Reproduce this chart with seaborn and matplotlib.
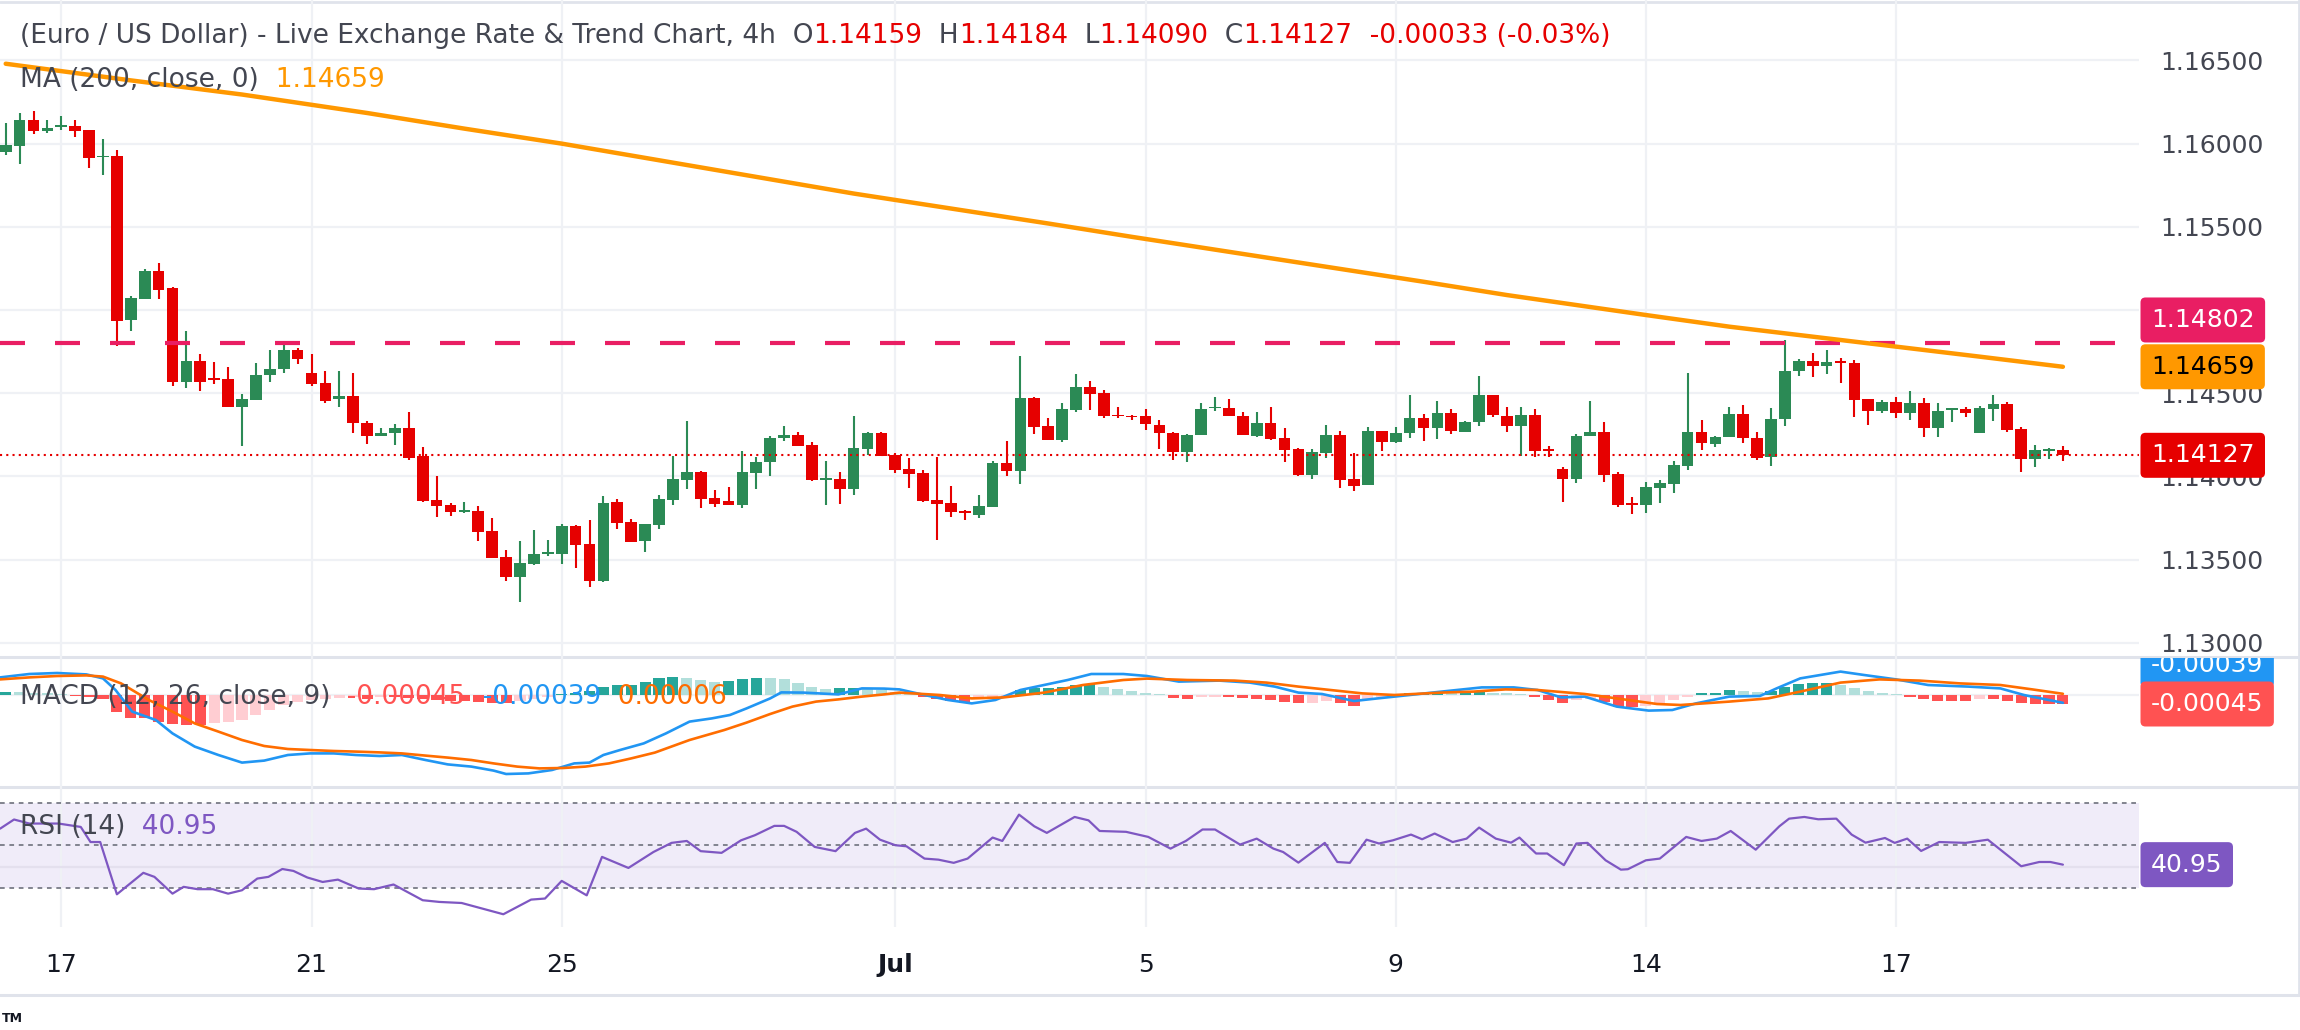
import numpy as np
import pandas as pd
import matplotlib
matplotlib.use("Agg")
import matplotlib.pyplot as plt
import seaborn as sns
from matplotlib.transforms import Bbox, TransformedBbox

sns.set_theme(style="white")
plt.rcParams['font.family'] = ['DejaVu Sans']

# ---- candles (4h EUR/USD) ----
opens = [1.15950, 1.15986, 1.16140, 1.16076, 1.16098, 1.16104, 1.16080, 1.15920, 1.15924, 1.14942,
         1.15068, 1.15234, 1.15132, 1.14570, 1.14694, 1.14592, 1.14586, 1.14420, 1.14460, 1.14612,
         1.14648, 1.14760, 1.14622, 1.14562, 1.14464, 1.14484, 1.14320, 1.14242, 1.14260, 1.14294,
         1.14122, 1.13856, 1.13826, 1.13786, 1.13790, 1.13670, 1.13514, 1.13396, 1.13474, 1.13532,
         1.13532, 1.13700, 1.13592, 1.13372, 1.13844, 1.13724, 1.13612, 1.13708, 1.13858, 1.13978,
         1.14024, 1.13868, 1.13850, 1.13828, 1.14020, 1.14086, 1.14230, 1.14252, 1.14186, 1.13976,
         1.13982, 1.13922, 1.14162, 1.14264, 1.14126, 1.14042, 1.14018, 1.13856, 1.13838, 1.13790,
         1.13766, 1.13814, 1.14078, 1.14030, 1.14474, 1.14306, 1.14216, 1.14402, 1.14540, 1.14504,
         1.14372, 1.14366, 1.14366, 1.14312, 1.14264, 1.14146, 1.14248, 1.14410, 1.14414, 1.14366,
         1.14242, 1.14324, 1.14228, 1.14162, 1.14008, 1.14140, 1.14252, 1.13982, 1.13948, 1.14276,
         1.14206, 1.14260, 1.14354, 1.14290, 1.14384, 1.14266, 1.14326, 1.14492, 1.14366, 1.14302,
         1.14372, 1.14162, 1.14042, 1.13984, 1.14242, 1.14270, 1.14014, 1.13840, 1.13828, 1.13930,
         1.13954, 1.14062, 1.14270, 1.14194, 1.14236, 1.14378, 1.14234, 1.14116, 1.14344, 1.14632,
         1.14696, 1.14662, 1.14696, 1.14684, 1.14468, 1.14396, 1.14450, 1.14384, 1.14444, 1.14294,
         1.14402, 1.14408, 1.14264, 1.14408, 1.14438, 1.14288, 1.14102, 1.14150, 1.14159]
highs = [1.16126, 1.16186, 1.16194, 1.16144, 1.16164, 1.16144, 1.16080, 1.16026, 1.15960, 1.15084,
         1.15246, 1.15282, 1.15138, 1.14876, 1.14736, 1.14688, 1.14658, 1.14496, 1.14682, 1.14760,
         1.14810, 1.14772, 1.14736, 1.14634, 1.14634, 1.14622, 1.14334, 1.14294, 1.14318, 1.14390,
         1.14174, 1.14000, 1.13838, 1.13844, 1.13820, 1.13748, 1.13556, 1.13610, 1.13676, 1.13616,
         1.13712, 1.13706, 1.13736, 1.13880, 1.13862, 1.13742, 1.13712, 1.13886, 1.14120, 1.14336,
         1.14030, 1.13916, 1.13934, 1.14150, 1.14114, 1.14246, 1.14306, 1.14270, 1.14204, 1.14090,
         1.14024, 1.14366, 1.14270, 1.14270, 1.14138, 1.14108, 1.14036, 1.14114, 1.13940, 1.13796,
         1.13886, 1.14090, 1.14210, 1.14726, 1.14480, 1.14354, 1.14444, 1.14618, 1.14576, 1.14522,
         1.14420, 1.14372, 1.14408, 1.14342, 1.14270, 1.14258, 1.14444, 1.14480, 1.14468, 1.14390,
         1.14390, 1.14420, 1.14294, 1.14168, 1.14162, 1.14312, 1.14276, 1.14138, 1.14300, 1.14276,
         1.14300, 1.14492, 1.14378, 1.14456, 1.14408, 1.14336, 1.14606, 1.14492, 1.14420, 1.14420,
         1.14408, 1.14182, 1.14054, 1.14258, 1.14456, 1.14330, 1.14024, 1.13876, 1.13964, 1.13976,
         1.14090, 1.14624, 1.14342, 1.14246, 1.14420, 1.14432, 1.14270, 1.14414, 1.14822, 1.14708,
         1.14744, 1.14762, 1.14714, 1.14702, 1.14468, 1.14462, 1.14480, 1.14516, 1.14474, 1.14444,
         1.14414, 1.14420, 1.14426, 1.14492, 1.14450, 1.14300, 1.14186, 1.14168, 1.14184]
lows = [1.15930, 1.15878, 1.16060, 1.16064, 1.16080, 1.16040, 1.15854, 1.15812, 1.14786, 1.14876,
        1.15068, 1.15066, 1.14546, 1.14534, 1.14516, 1.14558, 1.14420, 1.14180, 1.14460, 1.14570,
        1.14622, 1.14678, 1.14546, 1.14442, 1.14420, 1.14264, 1.14192, 1.14242, 1.14186, 1.14098,
        1.13844, 1.13754, 1.13760, 1.13778, 1.13610, 1.13508, 1.13372, 1.13244, 1.13468, 1.13520,
        1.13472, 1.13448, 1.13336, 1.13366, 1.13682, 1.13606, 1.13546, 1.13682, 1.13826, 1.13922,
        1.13808, 1.13816, 1.13828, 1.13810, 1.13924, 1.14002, 1.14212, 1.14182, 1.13970, 1.13826,
        1.13832, 1.13886, 1.14126, 1.14120, 1.14018, 1.13928, 1.13844, 1.13616, 1.13754, 1.13736,
        1.13748, 1.13814, 1.14000, 1.13952, 1.14258, 1.14216, 1.14204, 1.14390, 1.14402, 1.14350,
        1.14350, 1.14338, 1.14278, 1.14164, 1.14098, 1.14086, 1.14248, 1.14392, 1.14362, 1.14248,
        1.14236, 1.14218, 1.14086, 1.14002, 1.13984, 1.14110, 1.13930, 1.13912, 1.13948, 1.14152,
        1.14200, 1.14230, 1.14212, 1.14224, 1.14254, 1.14266, 1.14302, 1.14356, 1.14266, 1.14122,
        1.14116, 1.14116, 1.13846, 1.13960, 1.14242, 1.13966, 1.13816, 1.13774, 1.13780, 1.13840,
        1.13900, 1.14038, 1.14158, 1.14176, 1.14236, 1.14200, 1.14098, 1.14062, 1.14302, 1.14606,
        1.14600, 1.14618, 1.14564, 1.14360, 1.14312, 1.14384, 1.14354, 1.14342, 1.14240, 1.14240,
        1.14330, 1.14360, 1.14264, 1.14336, 1.14270, 1.14024, 1.14054, 1.14102, 1.14090]
closes = [1.15990, 1.16140, 1.16076, 1.16096, 1.16110, 1.16076, 1.15914, 1.15928, 1.14936, 1.15072,
          1.15234, 1.15122, 1.14570, 1.14694, 1.14570, 1.14582, 1.14420, 1.14466, 1.14610, 1.14646,
          1.14760, 1.14708, 1.14558, 1.14454, 1.14484, 1.14320, 1.14246, 1.14264, 1.14294, 1.14110,
          1.13850, 1.13822, 1.13786, 1.13796, 1.13666, 1.13508, 1.13396, 1.13478, 1.13532, 1.13544,
          1.13700, 1.13586, 1.13372, 1.13838, 1.13720, 1.13606, 1.13712, 1.13862, 1.13982, 1.14024,
          1.13864, 1.13834, 1.13828, 1.14024, 1.14084, 1.14234, 1.14252, 1.14182, 1.13976, 1.13988,
          1.13922, 1.14168, 1.14264, 1.14120, 1.14036, 1.14012, 1.13850, 1.13834, 1.13784, 1.13778,
          1.13820, 1.14078, 1.14030, 1.14474, 1.14300, 1.14216, 1.14408, 1.14540, 1.14494, 1.14362,
          1.14362, 1.14356, 1.14314, 1.14260, 1.14146, 1.14252, 1.14408, 1.14420, 1.14362, 1.14248,
          1.14324, 1.14224, 1.14158, 1.14006, 1.14144, 1.14252, 1.13978, 1.13942, 1.14276, 1.14206,
          1.14264, 1.14354, 1.14290, 1.14384, 1.14272, 1.14330, 1.14492, 1.14368, 1.14302, 1.14372,
          1.14152, 1.14152, 1.13984, 1.14246, 1.14270, 1.14008, 1.13828, 1.13828, 1.13934, 1.13958,
          1.14066, 1.14270, 1.14200, 1.14240, 1.14378, 1.14230, 1.14110, 1.14348, 1.14636, 1.14696,
          1.14662, 1.14690, 1.14684, 1.14462, 1.14396, 1.14450, 1.14384, 1.14444, 1.14294, 1.14396,
          1.14414, 1.14384, 1.14414, 1.14438, 1.14282, 1.14102, 1.14156, 1.14162, 1.14127]

# 200 period moving average, read at a few candles
ma_idx = [0, 9, 17, 26, 33, 40, 47, 54, 61, 68, 75, 81, 88, 95, 102, 108, 118, 124, 130, 136, 142, 148]
ma_vals = [1.1648, 1.1638, 1.16295, 1.16184, 1.1609, 1.1600, 1.1590, 1.1580, 1.1570, 1.1561, 1.1552,
           1.1544, 1.1535, 1.1526, 1.1517, 1.1509, 1.1497, 1.1490, 1.1484, 1.1478, 1.1472, 1.14659]

# MACD (12, 26, 9)
macd_idx = [-0.4, 1.7, 3.7, 5.8, 7.0, 7.9, 9.1, 10.8, 12.0, 13.6, 15.3, 17.0, 18.6, 20.3, 21.9,
            23.6, 25.2, 26.9, 28.5, 30.2, 31.8, 33.5, 35.1, 36.0, 37.6, 39.3, 40.9, 42.0, 43.0,
            44.2, 45.9, 47.5, 49.2, 50.8, 52.1, 53.3, 55.0, 55.8, 57.4, 59.9, 61.6, 63.2, 64.3,
            66.1, 67.8, 69.5, 71.2, 73.0, 74.7, 76.4, 78.1, 80.4, 82.1, 84.4, 87.3, 89.5, 91.3,
            93.0, 94.7, 97.0, 98.7, 101.0, 103.3, 106.2, 108.5, 110.2, 111.9, 113.6, 115.9,
            118.2, 119.9, 121.6, 124.0, 126.2, 127.4, 129.1, 132.0, 133.7, 136.0, 138.3, 141.2,
            143.5, 145.2, 148.0]
macd_vals = [0.00088, 0.00105, 0.0011, 0.00103, 0.00083, 0.00025, -0.00083, -0.00125, -0.00192,
             -0.00258, -0.0030, -0.00338, -0.00328, -0.0030, -0.00292, -0.00292, -0.0030, -0.00305,
             -0.0030, -0.00325, -0.00347, -0.00358, -0.00378, -0.00395, -0.00392, -0.00375,
             -0.00342, -0.00338, -0.0030, -0.00275, -0.00242, -0.00192, -0.00133, -0.00117,
             -0.0010, -0.00067, -0.00017, 0.00013, 0.00012, 0.00003, 0.00033, 0.00032, 0.00028,
             0.0, -0.00025, -0.00042, -0.00025, 0.00025, 0.0005, 0.00075, 0.00105, 0.00105,
             0.00095, 0.00067, 0.00072, 0.00062, 0.00042, 0.00012, 0.00005, -0.0003, -0.00017,
             0.0, 0.00017, 0.00038, 0.00038, 0.00025, -0.00012, -0.00008, -0.00058, -0.00078,
             -0.00075, -0.00042, -0.00008, -0.00005, 0.00033, 0.00083, 0.00117, 0.0010, 0.00078,
             0.0005, 0.00042, 0.00033, 0.0, -0.00039]
signal_idx = [-0.4, 1.7, 3.7, 5.8, 7.0, 8.3, 10.3, 12.0, 13.6, 15.3, 17.0, 18.6, 20.3, 21.9, 23.6,
              25.2, 26.9, 28.5, 30.2, 31.8, 33.5, 35.1, 36.8, 38.4, 40.1, 41.7, 43.4, 45.0, 46.7,
              49.2, 51.7, 53.3, 55.0, 56.6, 58.3, 59.9, 61.6, 63.2, 64.3, 67.2, 69.5, 71.8, 74.7,
              77.5, 80.4, 82.1, 85.0, 88.4, 90.7, 93.0, 95.3, 97.6, 99.9, 103.3, 105.6, 107.9,
              110.2, 113.6, 115.9, 118.8, 120.5, 124.0, 126.8, 129.1, 132.0, 134.8, 137.7, 140.6,
              143.5, 145.8, 148.0]
signal_vals = [0.00078, 0.00088, 0.00095, 0.00098, 0.00092, 0.00058, -0.00025, -0.00083, -0.00142,
               -0.00183, -0.00225, -0.00255, -0.0027, -0.00275, -0.0028, -0.00283, -0.00287,
               -0.00292, -0.00303, -0.00313, -0.00325, -0.00342, -0.00358, -0.00367, -0.00365,
               -0.00358, -0.00342, -0.00317, -0.00288, -0.00225, -0.00175, -0.00138, -0.00095,
               -0.00058, -0.00033, -0.00022, -0.00008, 0.00003, 0.00012, 0.0, -0.00017, -0.00012,
               0.00012, 0.0005, 0.00075, 0.00082, 0.00075, 0.00072, 0.00062, 0.00042, 0.00025,
               0.00008, 0.0, 0.00012, 0.00017, 0.00028, 0.00025, 0.00005, -0.00017, -0.00045,
               -0.0005, -0.00033, -0.00017, 0.00017, 0.00062, 0.00078, 0.00072, 0.00058, 0.0005,
               0.00028, 0.00006]
hist_vals = [0.00017, 0.00013, 0.0001, 0.00008, 0.00005, -0.00003, -0.0001, -0.0002, -0.00083, -0.00117,
             -0.00117, -0.00135, -0.00145, -0.0015, -0.00152, -0.00142, -0.00133, -0.00125, -0.0010, -0.00075,
             -0.0005, -0.00033, -0.00025, -0.0002, -0.00017, -0.00012, -0.0002, -0.0001, -0.0001, -0.00015,
             -0.0002, -0.00025, -0.0003, -0.0003, -0.00035, -0.0004, -0.0004, -0.0003, -0.0002, -0.0001,
             0.00005, 0.0001, 0.0002, 0.00042, 0.0005, 0.0005, 0.00067, 0.00083, 0.00092, 0.00083,
             0.00075, 0.00067, 0.00072, 0.00078, 0.00087, 0.00083, 0.00078, 0.00062, 0.00042, 0.00028,
             0.00033, 0.00037, 0.00028, 0.00025, 0.00015, 0.00008, -0.00008, -0.0002, -0.00028, -0.0004,
             -0.0002, -0.0001, -0.00008, 0.00025, 0.00033, 0.00037, 0.00042, 0.0005, 0.00055, 0.00042,
             0.00028, 0.0002, 0.00012, 0.00005, -0.00017, -0.0002, -0.00012, -0.00008, -0.0001, -0.00017,
             -0.00018, -0.00025, -0.00033, -0.00042, -0.00038, -0.0003, -0.00042, -0.00053, -0.0002, -0.00012,
             -0.00005, 0.00008, 0.00009, 0.00012, 0.00008, 0.00012, 0.00017, 0.00012, 0.00008, 0.00003,
             -0.00012, -0.00025, -0.00038, -0.00025, -0.0002, -0.00033, -0.00058, -0.0006, -0.00055, -0.00042,
             -0.00025, -0.00012, 0.00008, 0.00012, 0.00025, 0.00022, 0.00017, 0.00022, 0.00042, 0.00055,
             0.00058, 0.0006, 0.0005, 0.00033, 0.00022, 0.00012, 0.00005, -0.00012, -0.0002, -0.00028,
             -0.00029, -0.0003, -0.0002, -0.0002, -0.00028, -0.00042, -0.00043, -0.00044, -0.00045]

# RSI (14)
rsi_idx = [-0.4, 0.6, 1.7, 3.8, 5.4, 6.1, 6.8, 8.0, 9.9, 10.7, 12.0, 12.8, 13.8, 14.9, 16.0, 17.0,
           18.1, 18.9, 19.9, 20.7, 21.7, 22.8, 23.9, 25.4, 26.5, 27.9, 30.0, 31.2, 32.8, 35.8, 37.8,
           38.8, 40.0, 41.8, 42.9, 44.8, 46.6, 47.9, 49.0, 50.0, 51.5, 52.9, 53.9, 55.3, 56.0, 56.9,
           58.2, 59.7, 61.1, 61.9, 62.9, 64.0, 64.8, 66.1, 67.1, 68.2, 69.2, 71.0, 71.7, 72.9, 74.0,
           74.9, 76.9, 77.9, 78.7, 80.6, 82.2, 83.8, 84.9, 86.1, 87.0, 88.8, 90.0, 91.2, 91.9, 93.0,
           94.9, 95.8, 96.7, 97.9, 98.8, 99.8, 101.1, 101.9, 102.8, 104.1, 105.1, 106.0, 107.2,
           108.3, 108.9, 110.1, 110.9, 112.1, 113.0, 113.8, 115.1, 116.2, 116.7, 118.0, 119.0,
           120.9, 122.0, 123.1, 124.1, 125.9, 127.6, 128.3, 129.4, 130.4, 131.7, 132.8, 133.8,
           135.2, 135.9, 136.8, 137.8, 139.1, 141.0, 142.6, 145.0, 146.3, 147.1, 148.0]
rsi_vals = [57.9, 62.2, 60.3, 60.3, 58.7, 51.6, 51.6, 27.0, 37.1, 35.2, 27.3, 30.5, 29.4, 29.4, 27.3,
            28.9, 34.4, 35.2, 38.9, 38.0, 34.9, 32.8, 33.9, 29.7, 29.4, 31.6, 24.2, 23.4, 22.9, 17.6,
            24.5, 25.0, 33.3, 26.5, 44.6, 39.4, 46.9, 51.2, 52.1, 47.3, 46.5, 52.4, 54.8, 59.2, 59.2,
            56.4, 49.3, 47.3, 55.9, 57.9, 52.7, 50.1, 49.6, 43.8, 43.3, 41.8, 43.8, 53.7, 52.1, 64.5,
            59.0, 55.9, 63.4, 61.8, 56.8, 56.4, 54.0, 48.5, 52.1, 57.5, 57.5, 50.4, 53.2, 48.5, 46.9,
            41.9, 51.2, 42.2, 41.8, 52.7, 50.9, 52.4, 55.1, 52.9, 55.6, 51.6, 53.2, 58.4, 53.2, 51.3,
            53.7, 46.2, 46.2, 40.7, 50.9, 51.2, 43.0, 38.6, 38.8, 43.0, 43.8, 54.0, 52.1, 53.2, 56.8,
            48.0, 59.0, 62.6, 63.4, 62.3, 62.6, 55.1, 51.3, 53.5, 51.2, 53.2, 47.4, 51.6, 51.2, 52.7,
            40.2, 42.2, 42.2, 40.95]

tick_idx = [4, 22, 40, 64, 82, 100, 118, 136]
tick_labels = ["17", "21", "25", "Jul", "5", "9", "14", "17"]
price_ticks = [1.130, 1.135, 1.140, 1.145, 1.150, 1.155, 1.160, 1.165]

resistance = 1.14802
ma_last = 1.14659
last_close = 1.14127
macd_last, signal_last, hist_last = -0.00039, 0.00006, -0.00045
rsi_last = 40.95

# ---- styling ----
GREEN, RED = "#2b8a55", "#e60000"
GRID, SEP = "#eff1f5", "#e0e3eb"
TXT = "#434651"
ORANGE, PINK, PURPLE = "#ff9800", "#e91e63", "#7e57c2"
BLUE, SIG = "#2196f3", "#ff6d00"
FS = 18
FS_LEG = 19

W, H, PR = 2300, 1030, 2139
fig = plt.figure(figsize=(W / 100, H / 100), dpi=100)


def rect(top, bottom, left=0, right=PR):
    return [left / W, 1 - bottom / H, (right - left) / W, (bottom - top) / H]


bg = fig.add_axes([0, 0, 1, 1], zorder=-5)
bg.set_xlim(0, W)
bg.set_ylim(H, 0)
bg.axis("off")
for y in (657, 787, 995):
    bg.axhline(y, color=SEP, lw=2.2)
bg.axhline(1.5, color=SEP, lw=2)
bg.axvline(2298.5, color=SEP, lw=2, ymin=1 - 995 / H)

ax_p = fig.add_axes(rect(0, 657))
ax_m = fig.add_axes(rect(657, 787))
ax_r = fig.add_axes(rect(787, 927))

xlim = (-5.7 / 13.9, -5.7 / 13.9 + PR / 13.9)
for ax in (ax_p, ax_m, ax_r):
    ax.set_xlim(*xlim)
    ax.set_facecolor("none")
    for s in ax.spines.values():
        s.set_visible(False)
    ax.set_xticks(tick_idx)
    ax.grid(axis="x", color=GRID, lw=1.6)
    ax.tick_params(axis="both", length=0)

# ---- price panel ----
df = pd.DataFrame({"o": opens, "h": highs, "l": lows, "c": closes})
df["i"] = np.arange(len(df))
up = df["c"] >= df["o"]
colors = np.where(up, GREEN, RED)
ax_p.set_ylim(1.12915, 1.16863)
ax_p.set_yticks(price_ticks)
ax_p.grid(axis="y", color=GRID, lw=1.6)
ax_p.yaxis.tick_right()
ax_p.set_yticklabels([f"{v:.5f}" for v in price_ticks], fontsize=FS, color=TXT)
ax_p.tick_params(axis="y", pad=15)
ax_p.tick_params(axis="x", labelbottom=False)

ax_p.vlines(df["i"], df["l"], df["h"], colors=colors, lw=1.5, zorder=2)
body = np.maximum((df["c"] - df["o"]).abs(), 0.00004)
ax_p.bar(df["i"], body, bottom=np.minimum(df["o"], df["c"]), width=0.84,
         color=colors, linewidth=0, zorder=3)

ax_p.axhline(resistance, color=PINK, lw=3, dashes=(6, 7.2), zorder=4)
ax_p.axhline(last_close, color=RED, lw=1.5, dashes=(1, 2), zorder=4)
sns.lineplot(x=ma_idx, y=ma_vals, ax=ax_p, color=ORANGE, lw=3.2, sort=False,
             estimator=None, zorder=5)
ax_p.set_xlabel("")
ax_p.set_ylabel("")


def side_label(ax, val, text, fc, tc, dy=0, clip=None):
    a = ax.annotate(text, xy=(1, val), xycoords=("axes fraction", "data"),
                    xytext=(12, dy), textcoords="offset pixels", ha="left", va="center",
                    fontsize=FS, color=tc, annotation_clip=False, zorder=10,
                    bbox=dict(boxstyle="round,pad=0.42,rounding_size=0.2", fc=fc, ec="none"))
    if clip is not None:
        a.set_clip_on(True)
        a.set_clip_box(clip)
    return a


side_label(ax_p, resistance, f"{resistance:.5f}", PINK, "white", dy=23)
side_label(ax_p, ma_last, f"{ma_last:.5f}", ORANGE, "black")
side_label(ax_p, last_close, f"{last_close:.5f}", RED, "white")

# ---- MACD panel ----
ax_m.set_ylim(-0.0046, 0.0019)
ax_m.set_yticks([])
ax_m.axhline(0, color=GRID, lw=1.6, zorder=0)
ax_m.tick_params(axis="x", labelbottom=False)
hcols = []
for k, v in enumerate(hist_vals):
    prev = hist_vals[k - 1] if k else v
    if v >= 0:
        hcols.append("#26a69a" if v >= prev else "#b2dfdb")
    else:
        hcols.append("#ffcdd2" if v > prev else "#ff5252")
ax_m.bar(np.arange(len(hist_vals)), hist_vals, width=0.8, color=hcols, linewidth=0, zorder=2)
sns.lineplot(x=macd_idx, y=macd_vals, ax=ax_m, color=BLUE, lw=1.9, sort=False,
             estimator=None, zorder=3)
sns.lineplot(x=signal_idx, y=signal_vals, ax=ax_m, color=SIG, lw=1.9, sort=False,
             estimator=None, zorder=4)
ax_m.set_xlabel("")
ax_m.set_ylabel("")
macd_clip = TransformedBbox(Bbox([[0, 1 - 786 / H], [1, 1 - 658 / H]]), fig.transFigure)
side_label(ax_m, macd_last, f"{macd_last:.5f}", BLUE, "white", dy=38, clip=macd_clip)
side_label(ax_m, hist_last, f"{hist_last:.5f}", "#ff5252", "white", clip=macd_clip)

# ---- RSI panel ----
ax_r.set_ylim(11.6, 77.5)
ax_r.set_yticks([])
ax_r.axhspan(30, 70, color="#f0ecf9", lw=0, zorder=0)
ax_r.axhline(40, color="#e4e0ee", lw=1.6, zorder=1)
for lvl in (70, 50, 30):
    ax_r.axhline(lvl, color="#787b86", lw=1.3, dashes=(2.6, 2.6), zorder=1)
sns.lineplot(x=rsi_idx, y=rsi_vals, ax=ax_r, color=PURPLE, lw=1.6, sort=False,
             estimator=None, zorder=3)
ax_r.set_xlabel("")
ax_r.set_ylabel("")
ax_r.set_xticklabels(tick_labels, fontsize=FS, color="#131722")
ax_r.tick_params(axis="x", pad=19)
for lbl in ax_r.get_xticklabels():
    if lbl.get_text() == "Jul":
        lbl.set_fontweight("bold")
side_label(ax_r, rsi_last, f"{rsi_last:.2f}", PURPLE, "white")

# ---- legend rows ----
renderer = fig.canvas.get_renderer()


def text_row(x_px, y_px, pieces, size=FS_LEG):
    x = x_px
    for s, col in pieces:
        t = fig.text(x / W, 1 - y_px / H, s, color=col, fontsize=size, ha="left", va="center",
                     zorder=20)
        x = t.get_window_extent(renderer).x1


text_row(20, 36, [("(Euro / US Dollar) - Live Exchange Rate & Trend Chart, 4h", TXT),
                  ("  O", TXT), ("1.14159", RED), ("  H", TXT), ("1.14184", RED),
                  ("  L", TXT), ("1.14090", RED), ("  C", TXT), ("1.14127", RED),
                  ("  -0.00033 (-0.03%)", RED)])
text_row(20, 80, [("MA (200, close, 0)", TXT), ("  1.14659", ORANGE)])
text_row(20, 697, [("MACD (12, 26, close, 9)", TXT), ("  -0.00045", "#ff5252"),
                   ("  -0.00039", BLUE), ("  0.00006", SIG)])
text_row(20, 827, [("RSI (14)", TXT), ("  40.95", PURPLE)])
fig.text(2 / W, 1 - 1019 / H, "TM", fontsize=9, fontweight="bold", color="#131722",
         ha="left", va="center")

fig.savefig("out.png", dpi=100, facecolor="white")
